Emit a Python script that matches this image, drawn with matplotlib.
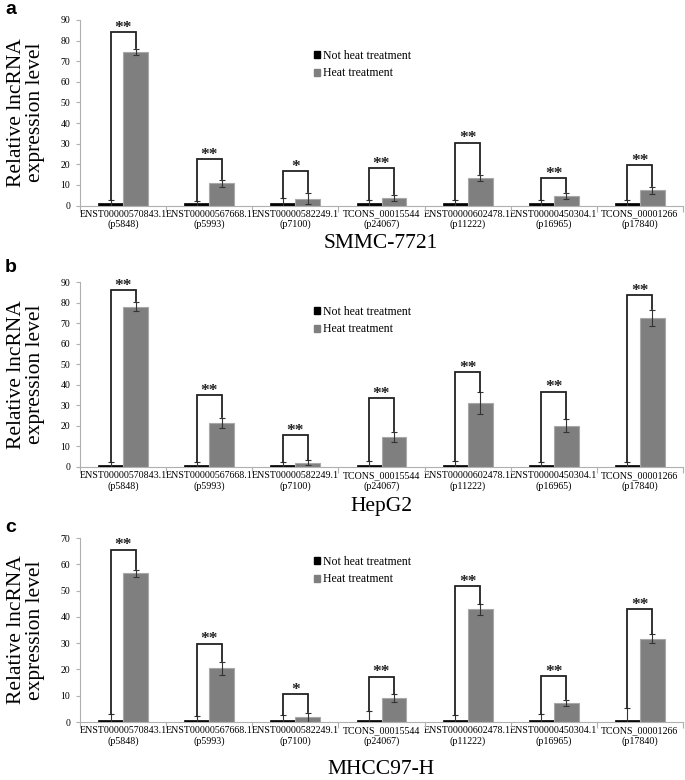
import matplotlib
matplotlib.use("Agg")
import matplotlib.pyplot as plt
from matplotlib.patches import Patch
import numpy as np

plt.rcParams['font.family'] = ['Liberation Serif', 'DejaVu Serif']

genes = ["ENST00000570843.1\n(p5848)", "ENST00000567668.1\n(p5993)", "ENST00000582249.1\n(p7100)",
         "TCONS_00015544\n(p24067)", "ENST00000602478.1\n(p11222)", "ENST00000450304.1\n(p16965)",
         "TCONS_00001266\n(p17840)"]
series_names = ["Not heat treatment", "Heat treatment"]

# Panel a: SMMC-7721
a_ctrl = [1, 1, 1, 1, 1, 1, 1]
a_ctrl_err = [1.5, 1.2, 2.8, 1.5, 1.7, 1.5, 1.7]
a_heat = [74.5, 10.8, 3.3, 3.6, 13.4, 4.5, 7.3]
a_heat_err = [1.5, 1.7, 2.8, 1.6, 1.6, 1.5, 1.6]
a_sig = ["**", "**", "*", "**", "**", "**", "**"]
a_bracket = [84, 22.4, 16.5, 18, 30.5, 13.3, 19.5]

# Panel b: HepG2
b_ctrl = [1, 1, 1, 1, 1, 1, 1]
b_ctrl_err = [1.5, 1.3, 1.2, 1.8, 2.0, 1.5, 1.5]
b_heat = [78, 21.3, 2.0, 14.7, 31, 20, 72.5]
b_heat_err = [2.3, 2.5, 1.2, 2.5, 5.3, 3.2, 3.8]
b_sig = ["**", "**", "**", "**", "**", "**", "**"]
b_bracket = [86, 35, 15.5, 33.5, 46.3, 36.6, 83.5]

# Panel c: MHCC97-H
c_ctrl = [0.8, 0.8, 0.8, 0.8, 0.8, 0.8, 0.8]
c_ctrl_err = [2.2, 1.5, 2.0, 3.2, 1.8, 2.2, 4.5]
c_heat = [56.5, 20.5, 1.8, 9.0, 42.8, 7.3, 31.6]
c_heat_err = [1.5, 2.5, 1.7, 1.5, 2.0, 1.2, 1.7]
c_sig = ["**", "**", "*", "**", "**", "**", "**"]
c_bracket = [65.6, 29.8, 10.5, 17.2, 51.7, 17.4, 42.9]

W, H = 685, 780
fig = plt.figure(figsize=(W / 100, H / 100), dpi=100)

def fx(px):
    return px / W

def fy(py):
    return 1 - py / H

panels = [
    dict(letter="a", cell="SMMC-7721", ctrl=a_ctrl, ce=a_ctrl_err, heat=a_heat, he=a_heat_err,
         sig=a_sig, br=a_bracket, ymax=90, y0=205.5, ytop=20, cell_y=243, leg_y=50, letter_y=9),
    dict(letter="b", cell="HepG2", ctrl=b_ctrl, ce=b_ctrl_err, heat=b_heat, he=b_heat_err,
         sig=b_sig, br=b_bracket, ymax=90, y0=467, ytop=282, cell_y=507, leg_y=306, letter_y=268),
    dict(letter="c", cell="MHCC97-H", ctrl=c_ctrl, ce=c_ctrl_err, heat=c_heat, he=c_heat_err,
         sig=c_sig, br=c_bracket, ymax=70, y0=722, ytop=538, cell_y=770, leg_y=556, letter_y=527),
]

x_left, x_right = 80, 683
bw = 0.29
gray = "#7f7f7f"
spine_c = "#b0b0b0"

for p in panels:
    ax = fig.add_axes([fx(x_left), fy(p["y0"]), fx(x_right) - fx(x_left), (p["y0"] - p["ytop"]) / H])
    x = np.arange(len(genes))
    ax.bar(x - bw / 2, p["ctrl"], bw, color="black", edgecolor="black", linewidth=0.5,
           yerr=p["ce"], error_kw=dict(ecolor="#333333", elinewidth=0.8, capsize=2.2, capthick=0.8),
           label=series_names[0])
    ax.bar(x + bw / 2, p["heat"], bw, color=gray, edgecolor="#a8a8a8", linewidth=0.8,
           yerr=p["he"], error_kw=dict(ecolor="#333333", elinewidth=0.8, capsize=2.2, capthick=0.8),
           label=series_names[1])
    # significance brackets
    for i in range(len(genes)):
        xl = i - bw / 2
        xr = i + bw / 2
        yl = p["ctrl"][i] + p["ce"][i]
        yr = p["heat"][i] + p["he"][i] + 0.004 * p["ymax"]
        h = p["br"][i]
        ax.plot([xl, xl, xr, xr], [yl, h, h, yr], color="#222222", lw=1.3, clip_on=False,
                solid_joinstyle="miter")
        ax.text(i, h - 0.02 * p["ymax"], p["sig"][i], ha="center", va="bottom", fontsize=12.5,
                fontweight="bold", color="#222222")
    ax.set_xlim(-0.5, len(genes) - 0.5)
    ax.set_ylim(0, p["ymax"])
    ax.set_yticks(np.arange(0, p["ymax"] + 1, 10))
    ax.set_xticks(x)
    ax.set_xticklabels(genes, fontsize=7.2, linespacing=1.1)
    ax.set_xticks(np.arange(-0.5, len(genes), 1), minor=True)
    ax.tick_params(axis="x", which="major", length=0, pad=3)
    ax.tick_params(axis="x", which="minor", length=4, color=spine_c, width=0.8)
    ax.tick_params(axis="y", length=3, color=spine_c, width=0.8, labelsize=7, pad=4)
    for s in ["top", "right"]:
        ax.spines[s].set_visible(False)
    for s in ["left", "bottom"]:
        ax.spines[s].set_color(spine_c)
        ax.spines[s].set_linewidth(0.8)
    handles = [Patch(facecolor="black", edgecolor="black"), Patch(facecolor=gray, edgecolor=gray)]
    fig.legend(handles, series_names, loc="upper left", bbox_to_anchor=(fx(314), fy(p["leg_y"])),
               frameon=False, fontsize=8.5, handlelength=0.55, handleheight=0.55, handletextpad=0.25,
               labelspacing=0.45, borderpad=0, borderaxespad=0)
    fig.text(fx(381), fy(p["cell_y"]), p["cell"], ha="center", va="center", fontsize=15.5)
    fig.text(fx(26), fy((p["y0"] + p["ytop"]) / 2), "Relative lncRNA\nexpression level",
             rotation=90, ha="center", va="center", fontsize=15.5, linespacing=0.95)
    fig.text(fx(5), fy(p["letter_y"]), p["letter"], ha="left", va="center", fontsize=14,
             fontweight="bold", family="Liberation Sans")

fig.savefig("out.png", dpi=100)
